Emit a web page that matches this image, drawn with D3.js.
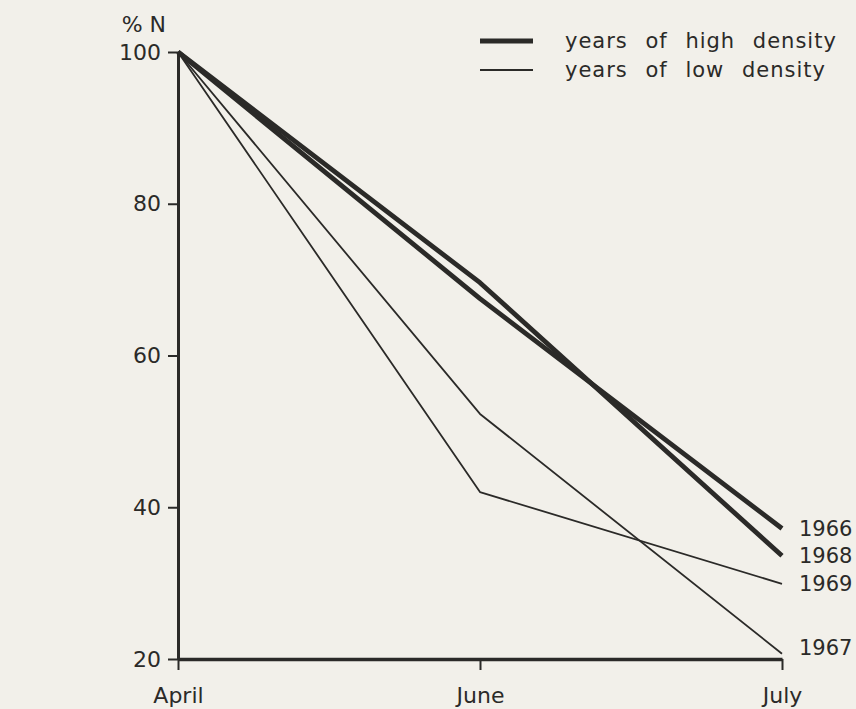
<!DOCTYPE html>
<html>
<head>
<meta charset="utf-8">
<script src="https://cdn.jsdelivr.net/npm/d3@7"></script>
<style>
  html, body { margin: 0; padding: 0; background: #f2f0ea; }
  svg { display: block; }
  text { font-family: "DejaVu Sans", sans-serif; fill: #2b2a28; }
</style>
</head>
<body>
<svg id="chart" width="856" height="709"></svg>
<script>
// ---- data ----
const months = ["April", "June", "July"];
const yTicks = [20, 40, 60, 80, 100];
const years = ["1966", "1968", "1969", "1967"];
const density = ["high", "high", "low", "low"];
const values1966 = [100, 67.5, 37.2];
const values1968 = [100, 69.6, 33.6];
const values1969 = [100, 42.0, 29.9];
const values1967 = [100, 52.3, 20.7];
const seriesValues = [values1966, values1968, values1969, values1967];
const legendLabels = ["years of high density", "years of low density"];
const yAxisTitle = "% N";

// ---- layout ----
const ink = "#2b2a28";
const font = "'DejaVu Sans', sans-serif";
const svg = d3.select("#chart");
const margin = { left: 178, right: 74, top: 52, bottom: 50 };
const W = 856, H = 709;

const x = d3.scalePoint().domain(months).range([margin.left, W - margin.right]);
const y = d3.scaleLinear().domain([20, 100]).range([H - margin.bottom, margin.top]);

// y axis
const yAxis = svg.append("g")
  .attr("transform", `translate(${margin.left},0)`)
  .call(d3.axisLeft(y).tickValues(yTicks).tickSize(10).tickPadding(7).tickSizeOuter(0));
yAxis.select(".domain").attr("stroke", ink).attr("stroke-width", 3);
yAxis.selectAll(".tick line").attr("stroke", ink).attr("stroke-width", 2);
yAxis.selectAll(".tick text")
  .style("font-size", "22px").attr("fill", ink).style("font-family", font);

// x axis
const xAxis = svg.append("g")
  .attr("transform", `translate(0,${y(20)})`)
  .call(d3.axisBottom(x).tickSize(11).tickPadding(17).tickSizeOuter(0));
xAxis.select(".domain").attr("stroke", ink).attr("stroke-width", 3.5);
xAxis.selectAll(".tick line").attr("stroke", ink).attr("stroke-width", 2);
xAxis.selectAll(".tick text")
  .style("font-size", "22px").attr("fill", ink).style("font-family", font);

// y axis title
svg.append("text")
  .attr("x", margin.left - 12).attr("y", y(100) - 20)
  .attr("text-anchor", "end")
  .style("font-size", "22px")
  .text(yAxisTitle);

// lines
const line = d3.line().x((d, i) => x(months[i])).y(d => y(d));
const widthFor = d => d === "high" ? 4.8 : 1.8;

svg.append("g").selectAll("path")
  .data(seriesValues)
  .join("path")
  .attr("d", d => line(d))
  .attr("fill", "none")
  .attr("stroke", ink)
  .attr("stroke-width", (d, i) => widthFor(density[i]))
  .attr("stroke-linejoin", "round")
  .attr("stroke-linecap", "butt");

// end labels
svg.append("g").selectAll("text")
  .data(seriesValues)
  .join("text")
  .attr("x", x("July") + 17)
  .attr("y", d => Math.min(y(d[d.length - 1]), y(20) - 12))
  .attr("dy", "0.36em")
  .style("font-size", "21px")
  .text((d, i) => years[i]);

// legend
const legend = svg.append("g");
const legendKinds = ["high", "low"];
legendKinds.forEach((k, i) => {
  const ly = 41 + i * 29;
  legend.append("line")
    .attr("x1", 480).attr("x2", 533)
    .attr("y1", ly).attr("y2", ly)
    .attr("stroke", ink).attr("stroke-width", widthFor(k));
  legend.append("text")
    .attr("x", 565).attr("y", ly)
    .attr("dy", "0.32em")
    .style("font-size", "21px")
    .style("letter-spacing", "1px")
    .style("word-spacing", "10px")
    .text(legendLabels[i]);
});
</script>
</body>
</html>
